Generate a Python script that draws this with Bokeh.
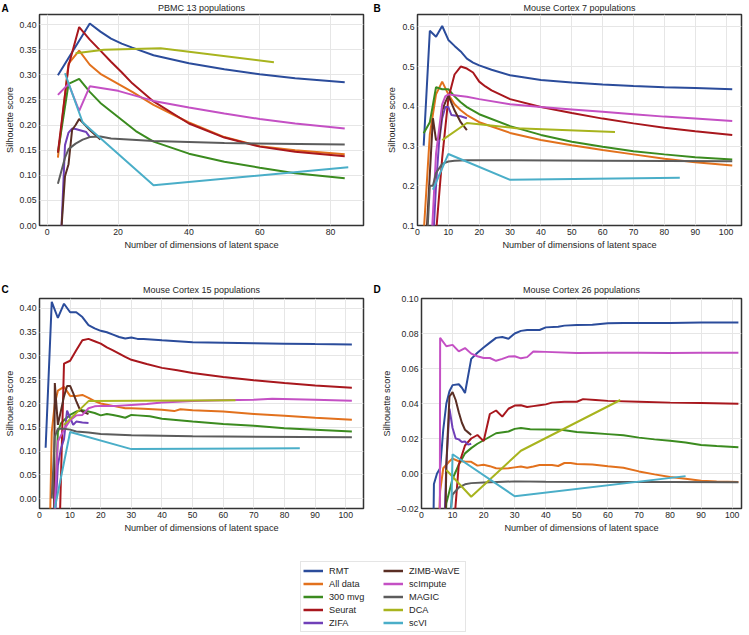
from bokeh.plotting import figure
from bokeh.layouts import column, row
from bokeh.models import FixedTicker, Range1d, Legend, LegendItem, Title
from bokeh.embed import file_html
from bokeh.resources import INLINE

# ---------------- series names / colours ----------------
methods = ["RMT", "All data", "300 mvg", "Seurat", "ZIFA",
           "ZIMB-WaVE", "scImpute", "MAGIC", "DCA", "scVI"]
colors = ["#2b4c9b", "#e2711d", "#3b8b1f", "#a8171d", "#7040b8",
          "#5a2e24", "#c450c4", "#5c5c5c", "#a8b41e", "#4aaec8"]

dca_x = [8, 16, 32, 64]
scvi_x = [5, 10, 30, 85]

# ---------------- A: PBMC 13 populations ----------------
a_rmt_x = [3, 12, 15, 18, 21, 24, 30, 40, 50, 60, 70, 84]
a_rmt_y = [0.299, 0.402, 0.386, 0.372, 0.362, 0.354, 0.339, 0.323, 0.311, 0.301, 0.293, 0.285]
a_all_x = [3, 6, 9, 12, 15, 18, 21, 24, 30, 40, 50, 60, 70, 84]
a_all_y = [0.135, 0.322, 0.348, 0.320, 0.302, 0.290, 0.278, 0.266, 0.240, 0.205, 0.176, 0.158, 0.150, 0.142]
a_mvg_x = [3, 6, 9, 12, 15, 20, 25, 30, 40, 50, 60, 70, 84]
a_mvg_y = [0.145, 0.282, 0.292, 0.266, 0.244, 0.216, 0.188, 0.167, 0.143, 0.127, 0.115, 0.104, 0.094]
a_seu_x = [3, 6, 9, 12, 15, 18, 21, 24, 30, 40, 50, 60, 70, 84]
a_seu_y = [0.145, 0.318, 0.395, 0.370, 0.348, 0.326, 0.305, 0.283, 0.247, 0.203, 0.175, 0.157, 0.147, 0.138]
a_zifa_x = [4, 5, 6, 7, 8, 9, 10, 11, 12]
a_zifa_y = [-0.005, 0.160, 0.185, 0.193, 0.192, 0.190, 0.188, 0.186, 0.176]
a_zimb_x = [4, 5, 6, 7, 8, 9, 10, 12, 15]
a_zimb_y = [-0.005, 0.098, 0.122, 0.190, 0.200, 0.212, 0.205, 0.190, 0.171]
a_sci_x = [3, 6, 9, 12, 20, 30, 40, 50, 60, 70, 84]
a_sci_y = [0.260, 0.282, 0.228, 0.277, 0.268, 0.248, 0.235, 0.223, 0.212, 0.203, 0.193]
a_mag_x = [3, 5, 6, 8, 10, 12, 15, 18, 30, 50, 84]
a_mag_y = [0.083, 0.135, 0.152, 0.163, 0.171, 0.176, 0.177, 0.173, 0.168, 0.164, 0.161]
a_dca_y = [0.343, 0.350, 0.353, 0.325]
a_scvi_y = [0.303, 0.205, 0.080, 0.116]

# ---------------- B: Mouse Cortex 7 populations ----------------
b_rmt_x = [2, 4, 6, 8, 10, 12, 14, 16, 18, 20, 24, 30, 40, 50, 60, 70, 80, 90, 102]
b_rmt_y = [0.301, 0.590, 0.575, 0.602, 0.567, 0.552, 0.538, 0.520, 0.510, 0.503, 0.492, 0.478,
           0.466, 0.460, 0.455, 0.451, 0.448, 0.446, 0.443]
b_all_x = [2, 4, 6, 8, 10, 12, 14, 16, 20, 30, 40, 50, 60, 70, 80, 90, 102]
b_all_y = [0.08, 0.33, 0.43, 0.462, 0.43, 0.405, 0.39, 0.378, 0.36, 0.333, 0.315, 0.302, 0.29,
           0.279, 0.268, 0.259, 0.251]
b_mvg_x = [2, 4, 6, 8, 10, 12, 14, 16, 20, 30, 40, 50, 60, 70, 80, 90, 102]
b_mvg_y = [0.332, 0.36, 0.448, 0.443, 0.443, 0.425, 0.41, 0.398, 0.38, 0.35, 0.328, 0.311, 0.298,
           0.287, 0.279, 0.272, 0.266]
b_seu_x = [4, 6, 8, 10, 12, 14, 16, 18, 20, 22, 24, 30, 40, 50, 60, 70, 80, 90, 102]
b_seu_y = [-0.1, 0.08, 0.27, 0.42, 0.48, 0.5, 0.495, 0.485, 0.462, 0.45, 0.44, 0.418, 0.398, 0.383,
           0.369, 0.357, 0.346, 0.337, 0.328]
b_zifa_x = [4, 5, 6, 7, 8, 9, 10, 11, 12, 14, 16]
b_zifa_y = [-0.2, 0.05, 0.2, 0.31, 0.37, 0.398, 0.398, 0.378, 0.377, 0.375, 0.37]
b_zimb_x = [3, 4, 5, 6, 7, 8, 9, 10, 12, 14, 16]
b_zimb_y = [0.09, 0.23, 0.37, 0.315, 0.318, 0.39, 0.41, 0.427, 0.39, 0.36, 0.34]
b_sci_x = [4, 6, 8, 9, 10, 12, 16, 20, 30, 40, 50, 60, 70, 80, 90, 102]
b_sci_y = [-0.02, 0.28, 0.405, 0.425, 0.43, 0.428, 0.424, 0.418, 0.405, 0.398, 0.392, 0.386, 0.38,
           0.374, 0.369, 0.363]
b_mag_x = [3, 4, 5, 6, 8, 10, 12, 16, 30, 60, 102]
b_mag_y = [0.05, 0.2, 0.2, 0.232, 0.255, 0.261, 0.263, 0.264, 0.264, 0.263, 0.262]
b_dca_y = [0.315, 0.358, 0.345, 0.335]
b_scvi_y = [0.19, 0.28, 0.215, 0.22]

# ---------------- C: Mouse Cortex 15 populations ----------------
c_rmt_x = [2, 4, 6, 8, 10, 12, 14, 16, 18, 20, 22, 24, 26, 28, 30, 32, 34, 40, 50, 60, 70, 80, 90, 102]
c_rmt_y = [0.107, 0.414, 0.380, 0.410, 0.392, 0.392, 0.382, 0.365, 0.358, 0.353, 0.350, 0.345, 0.340,
           0.337, 0.339, 0.336, 0.336, 0.333, 0.329, 0.328, 0.327, 0.326, 0.325, 0.324]
c_all_x = [3, 4, 5, 6, 8, 10, 12, 14, 16, 18, 20, 24, 28, 30, 34, 40, 44, 46, 50, 60, 70, 80, 90, 102]
c_all_y = [-0.2, 0.14, 0.2, 0.227, 0.235, 0.216, 0.216, 0.218, 0.212, 0.205, 0.2, 0.195, 0.19, 0.19,
           0.189, 0.187, 0.184, 0.188, 0.186, 0.183, 0.178, 0.174, 0.17, 0.166]
c_mvg_x = [4, 6, 7, 8, 10, 12, 14, 16, 18, 20, 22, 24, 26, 28, 30, 32, 36, 40, 50, 60, 70, 80, 90, 102]
c_mvg_y = [-0.2, 0.14, 0.158, 0.165, 0.176, 0.183, 0.186, 0.183, 0.18, 0.175, 0.178, 0.176, 0.173,
           0.17, 0.176, 0.175, 0.173, 0.168, 0.162, 0.157, 0.153, 0.148, 0.145, 0.141]
c_seu_x = [6, 8, 10, 12, 14, 16, 18, 20, 22, 24, 26, 28, 30, 35, 40, 45, 50, 60, 70, 80, 90, 102]
c_seu_y = [-0.2, 0.284, 0.29, 0.312, 0.333, 0.336, 0.331, 0.326, 0.318, 0.312, 0.305, 0.298, 0.292,
           0.283, 0.275, 0.27, 0.264, 0.256, 0.249, 0.243, 0.238, 0.233]
c_zifa_x = [5, 6, 7, 8, 9, 10, 11, 12, 14, 16]
c_zifa_y = [-0.05, 0.07, 0.105, 0.125, 0.185, 0.17, 0.155, 0.162, 0.16, 0.159]
c_zimb_x = [4, 5, 6, 7, 8, 9, 10, 11, 12, 13, 14, 16]
c_zimb_y = [-0.8, 0.243, 0.155, 0.185, 0.215, 0.237, 0.237, 0.222, 0.205, 0.19, 0.183, 0.178]
c_sci_x = [4, 5, 6, 8, 10, 12, 14, 16, 18, 20, 25, 30, 35, 40, 50, 60, 70, 76, 90, 102]
c_sci_y = [-0.15, -0.01, 0.12, 0.145, 0.165, 0.175, 0.176, 0.19, 0.194, 0.195, 0.195, 0.197, 0.199,
           0.202, 0.205, 0.207, 0.208, 0.21, 0.208, 0.206]
c_mag_x = [4, 5, 6, 8, 10, 12, 16, 20, 30, 50, 102]
c_mag_y = [0.0, 0.13, 0.147, 0.147, 0.145, 0.141, 0.139, 0.136, 0.133, 0.131, 0.129]
c_dca_y = [0.155, 0.205, 0.206, 0.207]
c_scvi_y = [-0.02, 0.14, 0.104, 0.106]

# ---------------- D: Mouse Cortex 26 populations ----------------
d_rmt_x = [3, 4, 5, 6, 7, 8, 9, 10, 12, 13, 14, 16, 18, 20, 22, 24, 26, 28, 30, 32, 34, 38, 40, 44,
           46, 50, 55, 60, 65, 80, 90, 102]
d_rmt_y = [-0.15, -0.006, 0.0, 0.003, 0.025, 0.04, 0.047, 0.0505, 0.051, 0.049, 0.046, 0.0655, 0.069,
           0.072, 0.0748, 0.0775, 0.078, 0.077, 0.08, 0.0815, 0.082, 0.082, 0.0835, 0.0838, 0.0845,
           0.0848, 0.085, 0.0858, 0.086, 0.086, 0.0863, 0.0863]
d_all_x = [5, 6, 7, 8, 9, 10, 12, 14, 16, 18, 20, 22, 24, 26, 28, 30, 32, 34, 36, 38, 42, 44, 46, 48,
           50, 55, 60, 65, 70, 75, 80, 85, 90, 95, 102]
d_all_y = [-0.06, -0.01, 0.003, 0.005, 0.007, 0.0085, 0.007, 0.0068, 0.0067, 0.0045, 0.005, 0.0042,
           0.003, 0.0028, 0.003, 0.0035, 0.004, 0.0033, 0.004, 0.0048, 0.0048, 0.0043, 0.006, 0.006,
           0.0054, 0.0052, 0.0042, 0.0033, 0.0012, -0.0005, -0.002, -0.003, -0.0042, -0.0045, -0.0048]
d_mvg_x = [7, 8, 10, 12, 14, 16, 18, 20, 22, 24, 28, 30, 32, 35, 40, 45, 50, 55, 60, 65, 70, 75, 80,
           85, 90, 95, 102]
d_mvg_y = [-0.05, -0.017, -0.003, 0.005, 0.0115, 0.0145, 0.017, 0.019, 0.021, 0.023, 0.024, 0.0255,
           0.026, 0.0253, 0.0252, 0.025, 0.0237, 0.0232, 0.0225, 0.0218, 0.0205, 0.0195, 0.0187,
           0.0177, 0.0163, 0.0157, 0.015]
d_seu_x = [10, 12, 14, 16, 18, 20, 22, 24, 26, 28, 30, 32, 34, 36, 38, 40, 42, 46, 50, 52, 56, 60, 70,
           80, 90, 102]
d_seu_y = [-0.04, 0.005, 0.016, 0.02, 0.022, 0.0185, 0.034, 0.036, 0.0325, 0.037, 0.0388, 0.039,
           0.038, 0.0385, 0.039, 0.0395, 0.0405, 0.041, 0.041, 0.0425, 0.042, 0.0415, 0.041, 0.0405,
           0.0403, 0.0398]
d_zifa_x = [7, 8, 9, 10, 11, 12, 13, 14, 15, 16]
d_zifa_y = [-0.05, 0.005, 0.037, 0.026, 0.02, 0.0195, 0.018, 0.0183, 0.0165, 0.017]
d_zimb_x = [7, 8, 9, 10, 11, 12, 13, 14, 15, 16]
d_zimb_y = [-0.1, 0.005, 0.044, 0.0465, 0.042, 0.035, 0.029, 0.025, 0.0235, 0.022]
d_sci_x = [5, 6, 8, 10, 12, 14, 16, 18, 20, 22, 24, 26, 28, 30, 32, 34, 36, 40, 50, 60, 70, 80, 90, 102]
d_sci_y = [-1.0, 0.0775, 0.0727, 0.0735, 0.0698, 0.0717, 0.0685, 0.067, 0.066, 0.066, 0.0644, 0.0655,
           0.0668, 0.067, 0.0658, 0.0665, 0.0697, 0.0695, 0.0688, 0.069, 0.069, 0.0688, 0.069, 0.069]
d_mag_x = [8, 10, 12, 14, 16, 20, 30, 40, 60, 80, 102]
d_mag_y = [-0.04, -0.012, -0.008, -0.0062, -0.0055, -0.0052, -0.0045, -0.0047, -0.0048, -0.0049, -0.005]
d_dca_y = [0.002, -0.0133, 0.013, 0.042]
d_scvi_y = [-0.38, 0.011, -0.013, -0.0015]

# ---------------- ticks ----------------
a_xticks = [0, 20, 40, 60, 80]
x10_ticks = [0, 10, 20, 30, 40, 50, 60, 70, 80, 90, 100]
a_yticks = [0.0, 0.05, 0.1, 0.15, 0.2, 0.25, 0.3, 0.35, 0.4]
a_ylabels = ["0.00", "0.05", "0.10", "0.15", "0.20", "0.25", "0.30", "0.35", "0.40"]
b_yticks = [0.1, 0.2, 0.3, 0.4, 0.5, 0.6]
b_ylabels = ["0.1", "0.2", "0.3", "0.4", "0.5", "0.6"]
d_yticks = [-0.02, 0.0, 0.02, 0.04, 0.06, 0.08, 0.1]
d_ylabels = ["\u22120.02", "0.00", "0.02", "0.04", "0.06", "0.08", "0.10"]

FONT = "Liberation Sans"
TXT = "#262626"


def make_panel(title, letter, xr, yr, xticks, yticks, ylabels, series,
               w, h, bl, br, bt, bb, ts):
    p = figure(output_backend="svg", toolbar_location=None, title=None,
               width=w, height=h,
               x_range=Range1d(*xr), y_range=Range1d(*yr),
               min_border_left=bl, min_border_right=br,
               min_border_top=bt, min_border_bottom=bb,
               background_fill_color="white", border_fill_color="white")
    # panel title (closest to the frame)
    p.add_layout(Title(text=title, align="center", text_font=FONT, text_font_size="9px",
                       text_font_style="normal", text_color=TXT, standoff=ts), "above")
    # panel letter (outer band, pulled down onto the title line)
    p.add_layout(Title(text=letter, align="left", vertical_align="bottom",
                       offset=-(bl - 1), standoff=-24.1 - ts, text_font=FONT,
                       text_font_size="10px", text_font_style="bold",
                       text_color="black"), "above")
    p.outline_line_color = "#333333"
    p.outline_line_width = 1.5
    p.outline_line_alpha = 1.0
    for ax in (p.xaxis[0], p.yaxis[0]):
        ax.axis_line_color = None
        ax.major_tick_line_color = None
        ax.minor_tick_line_color = None
        ax.major_tick_out = 0
        ax.major_tick_in = 0
        ax.minor_tick_out = 0
        ax.minor_tick_in = 0
        ax.major_label_text_font = FONT
        ax.major_label_text_font_size = "8.7px"
        ax.major_label_text_color = TXT
        ax.axis_label_text_font = FONT
        ax.axis_label_text_font_size = "9.2px"
        ax.axis_label_text_font_style = "normal"
        ax.axis_label_text_color = TXT
        ax.major_label_standoff = 3
        ax.axis_label_standoff = 2
    p.xaxis.axis_label = "Number of dimensions of latent space"
    p.yaxis.axis_label = "Silhouette score"
    p.xaxis.ticker = FixedTicker(ticks=xticks)
    p.yaxis.ticker = FixedTicker(ticks=yticks)
    p.yaxis.major_label_overrides = {t: l for t, l in zip(yticks, ylabels)}
    p.xgrid.grid_line_color = "#e6e6e6"
    p.ygrid.grid_line_color = "#e6e6e6"
    for (xs, ys), c in zip(series, colors):
        p.line(xs, ys, line_color=c, line_width=2)
    return p


a_series = [(a_rmt_x, a_rmt_y), (a_all_x, a_all_y), (a_mvg_x, a_mvg_y), (a_seu_x, a_seu_y),
            (a_zifa_x, a_zifa_y), (a_zimb_x, a_zimb_y), (a_sci_x, a_sci_y), (a_mag_x, a_mag_y),
            (dca_x, a_dca_y), (scvi_x, a_scvi_y)]
b_series = [(b_rmt_x, b_rmt_y), (b_all_x, b_all_y), (b_mvg_x, b_mvg_y), (b_seu_x, b_seu_y),
            (b_zifa_x, b_zifa_y), (b_zimb_x, b_zimb_y), (b_sci_x, b_sci_y), (b_mag_x, b_mag_y),
            (dca_x, b_dca_y), (scvi_x, b_scvi_y)]
c_series = [(c_rmt_x, c_rmt_y), (c_all_x, c_all_y), (c_mvg_x, c_mvg_y), (c_seu_x, c_seu_y),
            (c_zifa_x, c_zifa_y), (c_zimb_x, c_zimb_y), (c_sci_x, c_sci_y), (c_mag_x, c_mag_y),
            (dca_x, c_dca_y), (scvi_x, c_scvi_y)]
d_series = [(d_rmt_x, d_rmt_y), (d_all_x, d_all_y), (d_mvg_x, d_mvg_y), (d_seu_x, d_seu_y),
            (d_zifa_x, d_zifa_y), (d_zimb_x, d_zimb_y), (d_sci_x, d_sci_y), (d_mag_x, d_mag_y),
            (dca_x, d_dca_y), (scvi_x, d_scvi_y)]

pA = make_panel("PBMC 13 populations", "A", (-2.2, 89.3), (0.0, 0.42), a_xticks,
                a_yticks, a_ylabels, a_series, w=372, h=278, bl=39, br=9, bt=14, bb=53, ts=2.2)
pB = make_panel("Mouse Cortex 7 populations", "B", (0, 105), (0.1, 0.631), x10_ticks,
                b_yticks, b_ylabels, b_series, w=376, h=278, bl=45, br=7, bt=14, bb=53, ts=2.2)
pC = make_panel("Mouse Cortex 15 populations", "C", (0, 105.8), (-0.021, 0.421), x10_ticks,
                a_yticks, a_ylabels, c_series, w=372, h=267, bl=39, br=9, bt=20, bb=37, ts=8)
pD = make_panel("Mouse Cortex 26 populations", "D", (0, 103), (-0.02, 0.10), x10_ticks,
                d_yticks, d_ylabels, d_series, w=376, h=267, bl=49, br=7, bt=20, bb=37, ts=8)

# ---------------- legend panel ----------------
lf = figure(output_backend="svg", toolbar_location=None, width=748, height=89,
            min_border=0, x_axis_type=None, y_axis_type=None,
            x_range=Range1d(1000, 1001), y_range=Range1d(1000, 1001),
            outline_line_color=None, background_fill_color="white", border_fill_color="white")
lf.grid.visible = False
items = []
for m, c, (xs, ys) in zip(methods, colors, a_series):
    r = lf.line(xs, ys, line_color=c, line_width=2.5)
    items.append(LegendItem(label=m, renderers=[r]))
legend = Legend(items=items, nrows=5, location=(300, 2), orientation="vertical",
                glyph_width=20, glyph_height=13, label_height=13, label_width=54,
                label_standoff=6, spacing=0, padding=2, margin=0,
                border_line_color="#cccccc", border_line_width=1,
                label_text_font=FONT, label_text_font_size="9.2px", label_text_color=TXT,
                background_fill_color="white", background_fill_alpha=1.0)
lf.add_layout(legend, "center")

layout = column(row(pA, pB), row(pC, pD), lf)

open("out.html", "w").write(file_html(layout, INLINE))
